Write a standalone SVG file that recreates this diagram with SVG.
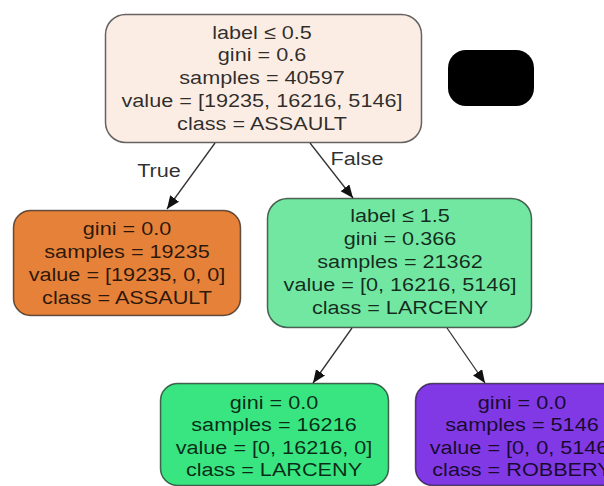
<svg xmlns="http://www.w3.org/2000/svg" width="604" height="486" viewBox="0 0 604 486">
  <style>
    .box { stroke: #000; stroke-opacity: 0.6; stroke-width: 1.5; }
    .t { font-family: "Liberation Sans", Arial, sans-serif; font-size: 19px; fill: #000; fill-opacity: 0.82; text-anchor: middle; }
    .edge { stroke: #333; stroke-width: 1.3; fill: none; marker-end: url(#arrow); }
  </style>
  <defs>
    <marker id="arrow" markerUnits="userSpaceOnUse" markerWidth="14" markerHeight="12" refX="13" refY="5.5" orient="auto">
      <path d="M0,0 L13,5.5 L0,11 z" fill="#111"/>
    </marker>
  </defs>

  <rect width="604" height="486" fill="#fff"/>

  <!-- connectors -->
  <g id="edges">
    <line class="edge" x1="215" y1="143" x2="167" y2="209"/>
    <line class="edge" x1="310" y1="143" x2="353" y2="198"/>
    <line class="edge" x1="352" y1="328" x2="313" y2="383"/>
    <line class="edge" x1="447" y1="328" x2="485" y2="383"/>
    <g transform="translate(159 0) scale(1.14 1)"><text class="t" x="0" y="177">True</text></g>
    <g transform="translate(357 0) scale(1.14 1)"><text class="t" x="0" y="165">False</text></g>
  </g>

  <!-- root split -->
  <g id="node0">
    <rect class="box" x="105.5" y="14.5" width="316" height="128" rx="20" fill="#fbede4"/>
    <g transform="translate(262 0) scale(1.14 1)">
      <text class="t" x="0" y="39">label ≤ 0.5</text>
      <text class="t" x="0" y="61">gini = 0.6</text>
      <text class="t" x="0" y="84">samples = 40597</text>
      <text class="t" x="0" y="107">value = [19235, 16216, 5146]</text>
      <text class="t" x="0" y="130">class = ASSAULT</text>
    </g>
  </g>

  <!-- legend blob -->
  <g id="blob">
    <rect x="448" y="50" width="86" height="56" rx="18" fill="#000"/>
  </g>

  <!-- leaf: ASSAULT -->
  <g id="node1">
    <rect class="box" x="13.5" y="210.5" width="227" height="105" rx="17" fill="#e58139"/>
    <g transform="translate(127 0) scale(1.14 1)">
      <text class="t" x="0" y="235">gini = 0.0</text>
      <text class="t" x="0" y="258">samples = 19235</text>
      <text class="t" x="0" y="281">value = [19235, 0, 0]</text>
      <text class="t" x="0" y="304">class = ASSAULT</text>
    </g>
  </g>

  <!-- split on label ≤ 1.5 -->
  <g id="node2">
    <rect class="box" x="267.5" y="198.5" width="264" height="129" rx="20" fill="#72e7a2"/>
    <g transform="translate(400 0) scale(1.14 1)">
      <text class="t" x="0" y="222">label ≤ 1.5</text>
      <text class="t" x="0" y="245">gini = 0.366</text>
      <text class="t" x="0" y="268">samples = 21362</text>
      <text class="t" x="0" y="291">value = [0, 16216, 5146]</text>
      <text class="t" x="0" y="314">class = LARCENY</text>
    </g>
  </g>

  <!-- leaf: LARCENY -->
  <g id="node3">
    <rect class="box" x="160.5" y="383.5" width="228" height="102" rx="17" fill="#39e581"/>
    <g transform="translate(274 0) scale(1.14 1)">
      <text class="t" x="0" y="409">gini = 0.0</text>
      <text class="t" x="0" y="431.5">samples = 16216</text>
      <text class="t" x="0" y="454">value = [0, 16216, 0]</text>
      <text class="t" x="0" y="476.5">class = LARCENY</text>
    </g>
  </g>

  <!-- leaf: ROBBERY (runs past the right edge of the canvas) -->
  <g id="node4">
    <rect class="box" x="415.5" y="383.5" width="220" height="102" rx="17" fill="#8139e5"/>
    <g transform="translate(522 0) scale(1.14 1)">
      <text class="t" x="0" y="409">gini = 0.0</text>
      <text class="t" x="0" y="431.5">samples = 5146</text>
      <text class="t" x="0" y="454">value = [0, 0, 5146]</text>
      <text class="t" x="0" y="476.5">class = ROBBERY</text>
    </g>
  </g>
</svg>
